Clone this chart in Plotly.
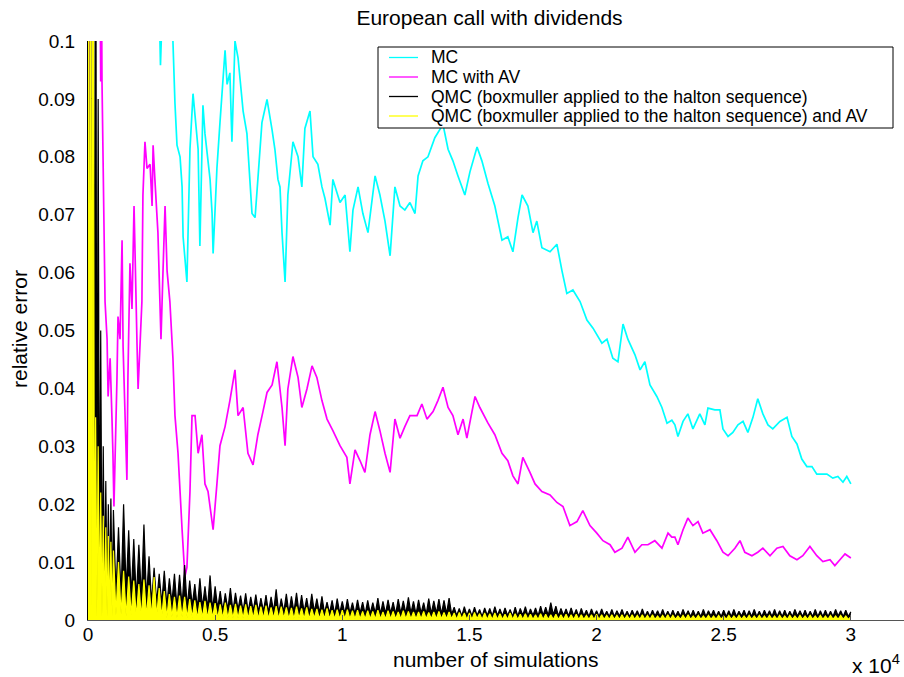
import plotly.graph_objects as go

# ---- Monte Carlo (plain) relative error: (number of simulations, relative error)
mc_n = [0, 1000, 2000, 2600, 2830, 2850, 2910, 3150, 3220, 3290,
        3340, 3420, 3500, 3620, 3700, 3740, 3890, 4010, 4130, 4330,
        4400, 4520, 4600, 4800, 4880, 4920, 5070, 5190, 5390, 5470,
        5580, 5660, 5780, 5900, 6100, 6250, 6450, 6570, 6680, 6840,
        7040, 7240, 7350, 7470, 7550, 7630, 7750, 7860, 8060, 8260,
        8410, 8530, 8730, 8850, 9040, 9200, 9320, 9520, 9630, 9910,
        10110, 10300, 10420, 10620, 10810, 11010, 11290, 11480, 11680, 11880,
        12070, 12270, 12460, 12660, 12860, 12980, 13170, 13370, 13640, 13960,
        14160, 14350, 14550, 14820, 15020, 15300, 15490, 15730, 16000, 16280,
        16510, 16710, 16910, 17070, 17300, 17500, 17650, 17850, 18170, 18440,
        18640, 18830, 19070, 19350, 19620, 19860, 20210, 20410, 20640, 20840,
        21040, 21230, 21510, 21710, 21900, 22100, 22370, 22570, 22770, 22960,
        23080, 23200, 23400, 23590, 23790, 24060, 24260, 24380, 24650, 24850,
        24970, 25170, 25360, 25560, 25760, 25950, 26150, 26340, 26540, 26740,
        26930, 27210, 27490, 27680, 27880, 28070, 28270, 28470, 28660, 28860,
        29060, 29290, 29490, 29690, 29840, 30000]
mc_err = [0.45, 0.2, 0.13, 0.11, 0.100, 0.0958, 0.104, 0.106, 0.101, 0.103,
          0.100, 0.0892, 0.0820, 0.0800, 0.0748, 0.0662, 0.0584, 0.0813, 0.0909, 0.0813,
          0.0646, 0.0889, 0.0840, 0.0761, 0.0702, 0.0633, 0.0780, 0.0859, 0.0984, 0.0925,
          0.0945, 0.0826, 0.1000, 0.0971, 0.0879, 0.0840, 0.0702, 0.0695, 0.0761, 0.0859,
          0.0899, 0.0846, 0.0813, 0.0761, 0.0748, 0.0669, 0.0584, 0.0734, 0.0826, 0.0800,
          0.0748, 0.0849, 0.0879, 0.0800, 0.0787, 0.0748, 0.0728, 0.0682, 0.0761, 0.0721,
          0.0734, 0.0636, 0.0708, 0.0748, 0.0702, 0.0669, 0.0767, 0.0734, 0.0689, 0.0629,
          0.0748, 0.0715, 0.0708, 0.0721, 0.0702, 0.0767, 0.0793, 0.0800, 0.0833, 0.0856,
          0.0813, 0.0793, 0.0767, 0.0734, 0.0774, 0.0817, 0.0793, 0.0754, 0.0715, 0.0656,
          0.0662, 0.0636, 0.0695, 0.0734, 0.0715, 0.0669, 0.0689, 0.0643, 0.0636, 0.0649,
          0.0603, 0.0564, 0.0570, 0.0550, 0.0518, 0.0504, 0.0478, 0.0485, 0.0452, 0.0446,
          0.0511, 0.0485, 0.0458, 0.0432, 0.0446, 0.0406, 0.0386, 0.0367, 0.0340, 0.0345,
          0.0337, 0.0317, 0.0343, 0.0356, 0.0330, 0.0356, 0.0337, 0.0366, 0.0363, 0.0363,
          0.0330, 0.0317, 0.0324, 0.0337, 0.0343, 0.0324, 0.0350, 0.0382, 0.0356, 0.0337,
          0.0330, 0.0343, 0.0350, 0.0317, 0.0304, 0.0278, 0.0265, 0.0265, 0.0252, 0.0252,
          0.0252, 0.0245, 0.0248, 0.0238, 0.0248, 0.0235]

# ---- Monte Carlo with antithetic variates
mcav_n = [10, 60, 110, 250, 380, 430, 460, 500, 530, 550,
          670, 750, 790, 870, 940, 980, 1020, 1140, 1180, 1260,
          1340, 1380, 1530, 1570, 1650, 1730, 1810, 1930, 1970, 2120,
          2160, 2240, 2320, 2440, 2520, 2560, 2630, 2750, 2870, 2950,
          3030, 3110, 3220, 3300, 3340, 3420, 3540, 3700, 3810, 3890,
          4010, 4090, 4210, 4330, 4480, 4600, 4720, 4920, 5070, 5190,
          5390, 5580, 5780, 5900, 6100, 6290, 6490, 6680, 6880, 7040,
          7240, 7430, 7630, 7750, 7860, 8060, 8260, 8410, 8610, 8810,
          9000, 9200, 9400, 9630, 9910, 10180, 10300, 10500, 10700, 10890,
          11090, 11290, 11480, 11680, 11880, 12070, 12270, 12460, 12660, 12940,
          13130, 13330, 13570, 13760, 13960, 14160, 14350, 14550, 14750, 14900,
          15100, 15220, 15410, 15730, 16000, 16280, 16510, 16710, 16910, 17100,
          17380, 17580, 17850, 18170, 18440, 18680, 18950, 19230, 19460, 19740,
          20010, 20250, 20530, 20720, 21000, 21230, 21510, 21780, 22020, 22290,
          22570, 22810, 22960, 23080, 23200, 23400, 23590, 23790, 23990, 24180,
          24460, 24730, 24970, 25170, 25440, 25640, 25830, 26110, 26340, 26540,
          26820, 27090, 27330, 27600, 27880, 28110, 28390, 28660, 28900, 29180,
          29370, 29570, 29770, 30000]
mcav_err = [0.0005, 0.002, 0.3, 0.2, 0.15, 0.1, 0.12, 0.093, 0.11, 0.0931,
            0.055, 0.0485, 0.0386, 0.0452, 0.0353, 0.0288, 0.0196, 0.0419, 0.0524, 0.0485,
            0.0656, 0.0472, 0.0242, 0.0419, 0.0616, 0.0537, 0.0715, 0.0472, 0.0399, 0.055,
            0.0734, 0.0826, 0.0780, 0.0787, 0.0715, 0.0820, 0.0761, 0.0669, 0.0485, 0.0603,
            0.0715, 0.0603, 0.055, 0.0485, 0.0452, 0.0353, 0.0288, 0.0156, 0.0075, 0.0091,
            0.0222, 0.0353, 0.0353, 0.0288, 0.0320, 0.0235, 0.0222, 0.0156, 0.0235, 0.0301,
            0.0334, 0.0379, 0.0432, 0.0353, 0.0367, 0.0288, 0.0268, 0.0320, 0.0360, 0.0393,
            0.0406, 0.0446, 0.0367, 0.0301, 0.0399, 0.0455, 0.0419, 0.0367, 0.0399, 0.0439,
            0.0419, 0.0379, 0.0347, 0.0327, 0.0301, 0.0281, 0.0235, 0.0294, 0.0275, 0.0255,
            0.0320, 0.0360, 0.0327, 0.0288, 0.0255, 0.0347, 0.0314, 0.0334, 0.0353, 0.0353,
            0.0373, 0.0347, 0.0360, 0.0379, 0.0402, 0.0367, 0.0353, 0.0320, 0.0347, 0.0314,
            0.0360, 0.0386, 0.0367, 0.0340, 0.0320, 0.0288, 0.0275, 0.0249, 0.0235, 0.0281,
            0.0255, 0.0235, 0.0222, 0.0216, 0.0203, 0.0196, 0.0163, 0.0170, 0.0189, 0.0163,
            0.0150, 0.0137, 0.0130, 0.0117, 0.0124, 0.0143, 0.0117, 0.0130, 0.0130, 0.0137,
            0.0124, 0.0150, 0.0143, 0.0143, 0.0130, 0.0156, 0.0176, 0.0163, 0.0170, 0.0150,
            0.0156, 0.0137, 0.0117, 0.0111, 0.0124, 0.0137, 0.0117, 0.0111, 0.0117, 0.0124,
            0.0111, 0.0124, 0.0127, 0.0111, 0.0104, 0.0111, 0.0127, 0.0111, 0.0101, 0.0104,
            0.0094, 0.0104, 0.0114, 0.0107]

# ---- Quasi Monte Carlo runs, sampled every 50 sims below 1000 and every 100 after
qmc_n = list(range(0, 1000, 50)) + list(range(1000, 30001, 100))

# relative error in units of 1e-4
qmc_e4 = [
    1500, 40, 1500, 50, 1500, 60, 1500, 50, 900, 60,
    500, 50, 300, 45, 240, 40, 200, 40, 210, 35,
    190, 45, 160, 40, 200, 50, 155, 40, 140, 35,
    130, 40, 165, 35, 110, 30, 90, 30, 80, 28,
    85, 25, 72, 30, 80, 22, 78, 25, 95, 22,
    68, 25, 62, 20, 72, 22, 58, 20, 77, 18,
    58, 20, 50, 16, 46, 18, 55, 15, 47, 18,
    42, 15, 46, 14, 40, 16, 44, 14, 38, 15,
    43, 13, 40, 15, 53, 12, 37, 14, 45, 12,
    41, 14, 47, 12, 43, 14, 38, 12, 45, 14,
    37, 12, 41, 12, 31, 12, 34, 10, 37, 12,
    32, 11, 36, 12, 30, 10, 35, 12, 31, 10,
    34, 11, 30, 12, 38, 10, 32, 11, 35, 12,
    31, 10, 36, 12, 33, 11, 39, 12, 32, 10,
    35, 12, 30, 10, 37, 11, 33, 12, 36, 10,
    34, 11, 38, 10, 22, 8, 20, 7, 23, 8,
    19, 7, 22, 8, 18, 6, 21, 8, 20, 7,
    23, 8, 19, 7, 21, 8, 18, 6, 22, 7,
    20, 8, 23, 7, 19, 8, 21, 7, 24, 8,
    22, 8, 30, 9, 24, 7, 20, 8, 19, 7,
    21, 7, 18, 6, 20, 7, 17, 6, 19, 7,
    16, 6, 19, 7, 15, 6, 18, 6, 16, 7,
    18, 6, 15, 6, 17, 7, 16, 6, 19, 6,
    15, 6, 17, 7, 16, 6, 18, 6, 15, 6,
    17, 6, 15, 6, 18, 7, 16, 6, 17, 6,
    15, 6, 18, 6, 16, 7, 17, 6, 15, 6,
    17, 6, 16, 6, 18, 6, 15, 7, 17, 6,
    16, 6, 18, 6, 15, 6, 17, 7, 16, 6,
    18, 6, 16, 6, 17, 6, 15, 6, 18, 7,
    16, 6, 17, 6, 15, 6, 18, 6, 16, 6,
    17, 6, 15, 6, 18, 7, 16, 6, 17, 6,
    14]

qmcav_e4 = [
    1500, 5, 1500, 8, 1500, 6, 350, 5, 300, 8,
    220, 6, 180, 5, 160, 6, 145, 5, 135, 6,
    120, 8, 100, 10, 85, 6, 75, 8, 68, 6,
    62, 5, 70, 6, 60, 5, 74, 6, 55, 5,
    50, 4, 45, 5, 40, 4, 42, 5, 40, 4,
    36, 4, 34, 3, 31, 4, 33, 3, 30, 4,
    29, 3, 27, 3, 30, 3, 26, 3, 28, 3,
    25, 3, 27, 2, 24, 3, 26, 2, 23, 3,
    25, 2, 22, 3, 24, 2, 23, 3, 22, 2,
    21, 2, 23, 3, 20, 2, 22, 2, 19, 3,
    19, 2, 18, 2, 20, 2, 17, 2, 18, 2,
    17, 2, 18, 2, 16, 2, 17, 2, 15, 2,
    16, 2, 15, 2, 17, 2, 14, 2, 16, 2,
    15, 2, 14, 2, 16, 2, 15, 2, 14, 2,
    14, 2, 15, 2, 13, 2, 14, 2, 15, 2,
    13, 2, 14, 2, 12, 1, 13, 2, 12, 1,
    12, 1, 13, 2, 11, 1, 12, 1, 11, 1,
    12, 1, 11, 1, 10, 1, 12, 1, 11, 1,
    10, 1, 11, 1, 10, 1, 9, 1, 11, 1,
    10, 1, 9, 1, 10, 1, 9, 1, 10, 1,
    9, 1, 10, 1, 9, 1, 8, 1, 9, 1,
    10, 1, 9, 1, 8, 1, 9, 1, 8, 1,
    9, 1, 8, 1, 9, 1, 8, 1, 9, 1,
    8, 1, 9, 1, 7, 1, 8, 1, 9, 1,
    8, 1, 7, 1, 8, 1, 9, 1, 7, 1,
    8, 1, 7, 1, 8, 1, 7, 1, 8, 1,
    7, 1, 8, 1, 7, 1, 8, 1, 7, 1,
    8, 1, 7, 1, 8, 1, 7, 1, 8, 1,
    7, 1, 8, 1, 7, 1, 8, 1, 7, 1,
    8, 1, 7, 1, 8, 1, 7, 1, 8, 1,
    7, 1, 8, 1, 7, 1, 8, 1, 7, 1,
    6]

series_names = [
    "MC",
    "MC with AV",
    "QMC (boxmuller applied to the halton sequence)",
    "QMC (boxmuller applied to the halton sequence) and AV",
]
series_colors = ["#00FFFF", "#FF00FF", "#000000", "#FFFF00"]

x_tickvals = [0, 5000, 10000, 15000, 20000, 25000, 30000]
x_ticktext = ["0", "0.5", "1", "1.5", "2", "2.5", "3"]
y_tickvals = [0, 0.01, 0.02, 0.03, 0.04, 0.05, 0.06, 0.07, 0.08, 0.09, 0.1]
y_ticktext = ["0", "0.01", "0.02", "0.03", "0.04", "0.05", "0.06", "0.07", "0.08", "0.09", "0.1"]

FONT = "Liberation Sans, Arial, Helvetica, sans-serif"

qmc_err = [v / 1e4 for v in qmc_e4]
qmcav_err = [v / 1e4 for v in qmcav_e4]

data = [
    (mc_n, mc_err, False),
    (mcav_n, mcav_err, False),
    (qmc_n[:len(qmc_err)], qmc_err, True),
    (qmc_n[:len(qmcav_err)], qmcav_err, True),
]

fig = go.Figure()
for (xs, ys, dense), name, color in zip(data, series_names, series_colors):
    n = min(len(xs), len(ys))
    # the QMC runs oscillate so fast that their trace reads as a solid band
    fig.add_trace(go.Scatter(
        x=xs[:n], y=ys[:n], mode="lines", name=name,
        line=dict(color=color, width=1.2 if dense else 1.7, simplify=False),
        fill="tozeroy" if dense else None,
        fillcolor=color if dense else None,
        showlegend=False,
    ))

# plot area in pixels: x 88..904, y 41..620
W, H = 904, 677
L, R, T, B = 88, 904, 41, 620


def px_x(px):
    return (px - L) / (R - L)


def px_y(py):
    return (B - py) / (B - T)


# boxed legend in the upper right
shapes = [dict(type="rect", xref="paper", yref="paper",
               x0=px_x(378), x1=px_x(893), y0=px_y(128), y1=px_y(47),
               line=dict(color="black", width=1), fillcolor="white", layer="above")]
annotations = []
row_y = [57.5, 77.0, 96.5, 116.0]
for name, color, ry in zip(series_names, series_colors, row_y):
    shapes.append(dict(type="line", xref="paper", yref="paper",
                       x0=px_x(389), x1=px_x(418), y0=px_y(ry), y1=px_y(ry),
                       line=dict(color=color, width=1.3), layer="above"))
    annotations.append(dict(text=name, xref="paper", yref="paper",
                            x=px_x(429), y=px_y(ry), xanchor="left", yanchor="middle",
                            showarrow=False, font=dict(family=FONT, size=17.5, color="black")))

annotations += [
    dict(text="number of simulations", xref="paper", yref="paper",
         x=px_x(495), y=px_y(659), xanchor="center", yanchor="middle",
         showarrow=False, font=dict(family=FONT, size=21, color="black")),
    dict(text="relative error", xref="paper", yref="paper", textangle=-90,
         x=px_x(19), y=px_y(329), xanchor="center", yanchor="middle",
         showarrow=False, font=dict(family=FONT, size=21, color="black")),
    dict(text="x 10<sup>4</sup>", xref="paper", yref="paper",
         x=px_x(850), y=px_y(664), xanchor="left", yanchor="middle",
         showarrow=False, font=dict(family=FONT, size=21, color="black")),
]

fig.update_layout(
    width=W, height=H,
    margin=dict(l=L, r=W - R, t=T, b=H - B, pad=0),
    paper_bgcolor="white", plot_bgcolor="white",
    font=dict(family=FONT, size=19, color="black"),
    title=dict(text="European call with dividends", x=489.5 / W, xref="container",
               xanchor="center", y=1 - 18 / H, yref="container", yanchor="middle",
               font=dict(family=FONT, size=21, color="black")),
    shapes=shapes,
    annotations=annotations,
    showlegend=False,
)
fig.update_xaxes(
    range=[0, 32090], tickvals=x_tickvals, ticktext=x_ticktext,
    showgrid=False, zeroline=False, showline=True, linecolor="#555555", linewidth=1,
    ticks="inside", ticklen=5, tickcolor="#555555", tickfont=dict(size=19),
    ticklabelstandoff=-3,
)
fig.update_yaxes(
    range=[0, 0.1], tickvals=y_tickvals, ticktext=y_ticktext,
    showgrid=False, zeroline=False, showline=True, linecolor="black", linewidth=1,
    ticks="inside", ticklen=5, tickcolor="black", tickfont=dict(size=19),
    ticklabelstandoff=8, layer="below traces",
)

fig.write_html("out.html")
